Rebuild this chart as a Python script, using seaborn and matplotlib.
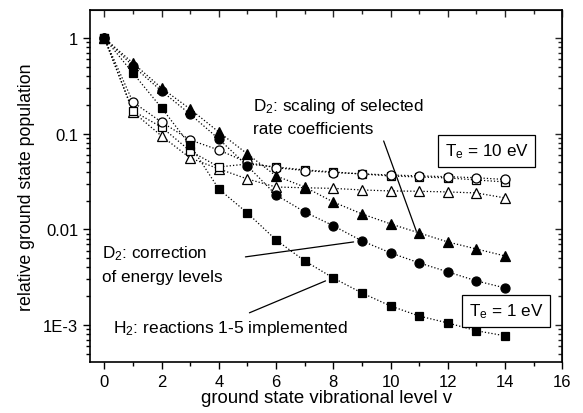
import numpy as np
import pandas as pd
import matplotlib
matplotlib.use("Agg")
import matplotlib.pyplot as plt
import seaborn as sns
from matplotlib.ticker import LogLocator, NullFormatter

# vibrational levels
v = list(range(15))

# T_e = 1 eV (filled markers)
h2_reactions = [1, 0.43, 0.186, 0.076, 0.0264, 0.0148, 0.00774, 0.00468, 0.0031,
                0.00216, 0.00158, 0.00124, 0.00105, 0.00087, 0.00077]
d2_energy = [1, 0.51, 0.279, 0.16, 0.088, 0.046, 0.0229, 0.0152, 0.0109,
             0.00757, 0.00567, 0.00446, 0.00359, 0.00289, 0.00244]
d2_scaling = [1, 0.548, 0.30, 0.181, 0.104, 0.0614, 0.0362, 0.0277, 0.0193,
              0.0145, 0.0114, 0.00917, 0.00738, 0.00623, 0.00527]

# T_e = 10 eV (open markers)
open_circles = [1, 0.214, 0.132, 0.086, 0.0675, 0.050, 0.044, 0.0412, 0.0392,
                0.038, 0.037, 0.0362, 0.0355, 0.0346, 0.0332]
open_squares = [1, 0.173, 0.117, 0.066, 0.0449, 0.0482, 0.0449, 0.0418, 0.0398,
                0.0379, 0.0361, 0.0353, 0.0345, 0.0328, 0.0313]
open_triangles = [1, 0.169, 0.0946, 0.0557, 0.0428, 0.0336, 0.0277, 0.0272, 0.0268,
                  0.0258, 0.0252, 0.025, 0.0246, 0.024, 0.0213]

series = [
    ("open_triangles", open_triangles, "^", "white", 7),
    ("open_squares", open_squares, "s", "white", 5.8),
    ("open_circles", open_circles, "o", "white", 6.5),
    ("h2_reactions", h2_reactions, "s", "black", 5.8),
    ("d2_energy", d2_energy, "o", "black", 6.5),
    ("d2_scaling", d2_scaling, "^", "black", 7),
]

sns.set_style("ticks")
plt.rcParams['font.family'] = ['Liberation Sans', 'DejaVu Sans']
plt.rcParams['mathtext.fontset'] = 'custom'
plt.rcParams['mathtext.rm'] = 'Liberation Sans'
plt.rcParams['mathtext.it'] = 'Liberation Sans'
plt.rcParams['text.color'] = 'black'
plt.rcParams['axes.labelcolor'] = 'black'

fig = plt.figure(figsize=(5.83, 4.14), dpi=100)
ax = fig.add_axes([0.1544, 0.1232, 0.81, 0.85])

for name, vals, mk, fc, ms in series:
    df = pd.DataFrame({"v": v, "pop": vals})
    sns.lineplot(data=df, x="v", y="pop", ax=ax, color="black", linestyle=":",
                 linewidth=0.9, marker=mk, markersize=ms, markerfacecolor=fc,
                 markeredgecolor="black", markeredgewidth=0.9)

ax.set_yscale("log")
ax.set_xlim(-0.5, 16)
ax.set_ylim(4.1e-4, 1.96)
ax.set_xticks(range(0, 17, 2))
ax.set_xticks(range(1, 17, 2), minor=True)
ax.set_yticks([1e-3, 1e-2, 1e-1, 1])
ax.set_yticklabels(["1E-3", "0.01", "0.1", "1"])
ax.yaxis.set_minor_locator(LogLocator(base=10, subs=np.arange(2, 10)))
ax.yaxis.set_minor_formatter(NullFormatter())

ax.tick_params(axis="both", which="major", direction="out", length=5, width=1,
               labelsize=12, colors="black")
ax.tick_params(axis="both", which="minor", direction="out", length=3, width=1,
               colors="black")
for sp in ax.spines.values():
    sp.set_visible(True)
    sp.set_linewidth(1.2)
    sp.set_color("black")

# mirrored inward ticks on top/right
axt = ax.secondary_xaxis("top")
axt.set_xticks(range(0, 17, 2))
axt.set_xticks(range(1, 17, 2), minor=True)
axt.tick_params(which="major", direction="in", length=5, width=1, labeltop=False)
axt.tick_params(which="minor", direction="in", length=3, width=1)
axr = ax.secondary_yaxis("right")
axr.set_yticks([1e-3, 1e-2, 1e-1, 1])
axr.yaxis.set_minor_locator(LogLocator(base=10, subs=np.arange(2, 10)))
axr.yaxis.set_minor_formatter(NullFormatter())
axr.tick_params(which="major", direction="in", length=5, width=1, labelright=False)
axr.tick_params(which="minor", direction="in", length=3, width=1)

ax.set_xlabel("ground state vibrational level v", fontsize=13.4, labelpad=0)
ax.set_ylabel("relative ground state population", fontsize=12.8, labelpad=6)

fs = 12.3
ax.text(5.2, 0.153, "D$_2$: scaling of selected\nrate coefficients", fontsize=fs,
        ha="left", va="center", linespacing=1.45)
ax.plot([9.76, 10.9], [0.0839, 0.0096], color="black", linewidth=0.9)

ax.text(-0.07, 0.00435, "D$_2$: correction\nof energy levels", fontsize=fs,
        ha="left", va="center", linespacing=1.6)
ax.plot([4.93, 8.71], [0.00515, 0.00738], color="black", linewidth=0.9)

ax.text(0.3, 0.00095, "H$_2$: reactions 1-5 implemented", fontsize=12.5,
        ha="left", va="center")
ax.plot([5.07, 7.73], [0.00134, 0.00289], color="black", linewidth=0.9)

box = dict(boxstyle="square,pad=0.4", facecolor="white", edgecolor="black", linewidth=0.9)
ax.text(13.36, 0.066, "T$_e$ = 10 eV", fontsize=fs, ha="center", va="center", bbox=box)
ax.text(14.04, 0.0014, "T$_e$ = 1 eV", fontsize=fs, ha="center", va="center", bbox=box)

plt.savefig("out.png", dpi=100)
